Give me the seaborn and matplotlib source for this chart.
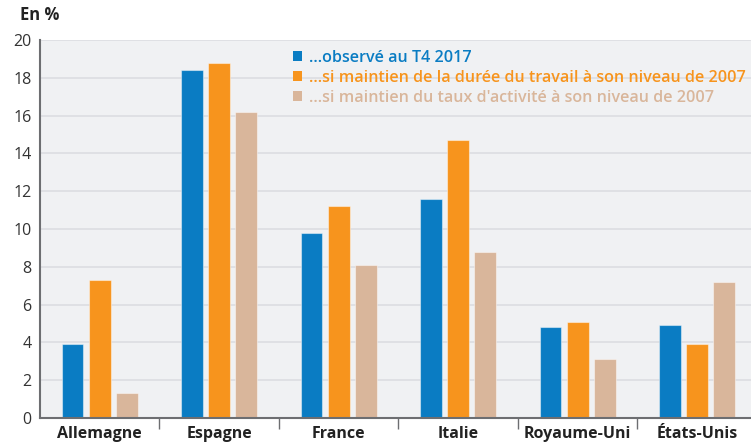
import matplotlib
matplotlib.use("Agg")
import matplotlib.pyplot as plt
from matplotlib.patches import Patch
import seaborn as sns
import pandas as pd

# Data
countries = ["Allemagne", "Espagne", "France", "Italie", "Royaume-Uni", "États-Unis"]
observe = [3.9, 18.4, 9.8, 11.6, 4.8, 4.9]
duree = [7.3, 18.8, 11.2, 14.7, 5.1, 3.9]
activite = [1.3, 16.2, 8.1, 8.8, 3.1, 7.2]
series = ["...observé au T4 2017",
          "...si maintien de la durée du travail à son niveau de 2007",
          "...si maintien du taux d'activité à son niveau de 2007"]
colors = ["#0a7cc3", "#f7941d", "#d9b69b"]

df = pd.DataFrame({
    "pays": countries * 3,
    "valeur": observe + duree + activite,
    "serie": [series[0]] * 6 + [series[1]] * 6 + [series[2]] * 6,
})

sns.set_theme(style="white")
plt.rcParams["font.family"] = ["Open Sans", "DejaVu Sans"]

fig = plt.figure(figsize=(7.51, 4.45), dpi=100)
ax = fig.add_axes([40 / 751, 27 / 445, 1 - 40 / 751, 378 / 445])
ax.set_facecolor("#f0f1f3")

sns.barplot(data=df, x="pays", y="valeur", hue="serie", palette=colors,
            width=0.68, gap=0.2, ax=ax, legend=False, saturation=1)
for bar in ax.patches:
    bar.set_edgecolor((1, 1, 1, 0.45))
    bar.set_linewidth(0.8)

ax.set_ylim(0, 20)
ax.set_xlim(-0.5, 5.45)
ax.set_yticks(range(0, 21, 2))
ax.yaxis.grid(True, color="#dcdde1", linewidth=1.2)
ax.set_axisbelow(True)
ax.set_xlabel("")
ax.set_ylabel("")

for s in ["top", "right"]:
    ax.spines[s].set_visible(False)
ax.spines["left"].set_color("#6d6e71")
ax.spines["left"].set_linewidth(1.5)
ax.spines["bottom"].set_color("#6d6e71")
ax.spines["bottom"].set_linewidth(1.5)

ax.tick_params(axis="y", length=0, labelsize=11.5, colors="#333333", pad=6)
ax.tick_params(axis="x", length=0, labelsize=11.5, pad=6)
for lab in ax.get_xticklabels():
    lab.set_fontweight("bold")
    lab.set_color("#222222")
ax.set_xticks([0.5, 1.5, 2.5, 3.5, 4.5], minor=True)
ax.tick_params(axis="x", which="minor", bottom=True, length=8, width=1,
               color="#6d6e71", direction="out")

fig.text(20 / 751, 1 - 15 / 445, "En %", fontsize=12, fontweight="bold",
         color="#222222", va="center")

handles = [Patch(facecolor=c, edgecolor="none") for c in colors]
leg = ax.legend(handles, series, loc="upper left",
                bbox_to_anchor=(243 / 711, 1.0), frameon=False,
                handlelength=0.6, handleheight=0.6, handletextpad=0.4,
                labelspacing=0.25, fontsize=11.6, labelcolor=colors,
                borderaxespad=0.2)
for t in leg.get_texts():
    t.set_fontweight("semibold")

fig.savefig("out.png", dpi=100)
